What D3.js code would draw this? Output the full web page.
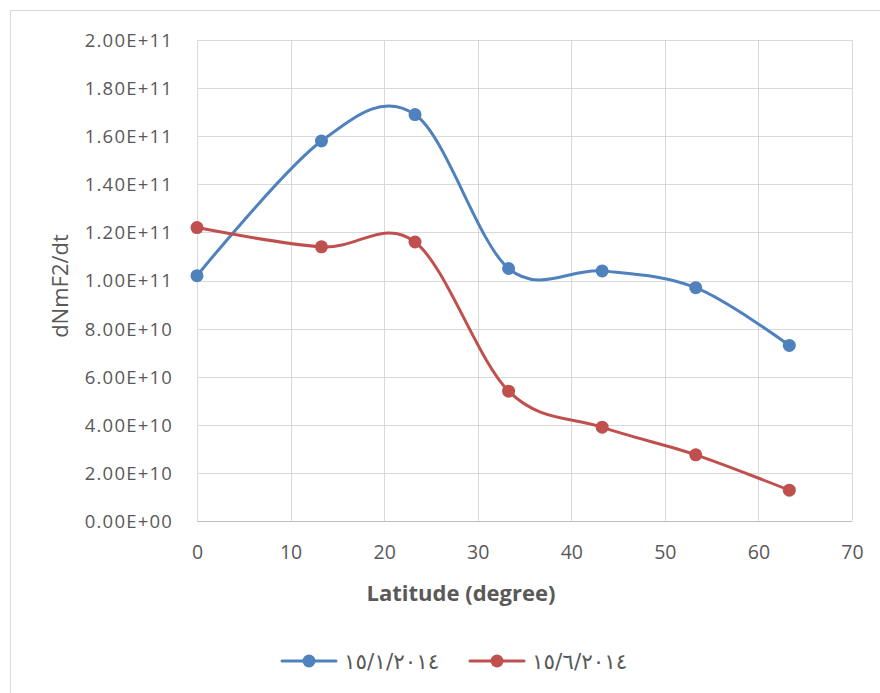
<!DOCTYPE html>
<html><head><meta charset="utf-8">
<script src="https://cdn.jsdelivr.net/npm/d3@7"></script>
<style>body{margin:0;background:#fff;} text{font-family:"Open Sans","Noto Sans",sans-serif;}</style>
</head><body>
<svg id="c" width="880" height="693"></svg>
<script>
const latitudes = [0, 13.3, 23.3, 33.3, 43.3, 53.3, 63.3];
const seriesJan = [1.02e11, 1.58e11, 1.69e11, 1.05e11, 1.04e11, 0.97e11, 0.73e11];
const seriesJun = [1.22e11, 1.14e11, 1.16e11, 0.54e11, 0.39e11, 0.275e11, 0.128e11];
const seriesNames = ["١٥/١/٢٠١٤", "١٥/٦/٢٠١٤"];
const seriesColors = ["#4F81BD", "#C0504D"];
const xTicks = [0, 10, 20, 30, 40, 50, 60, 70];
const yTicks = [0, 2e10, 4e10, 6e10, 8e10, 1e11, 1.2e11, 1.4e11, 1.6e11, 1.8e11, 2e11];

const svg = d3.select("#c");
svg.append("rect").attr("x",10.5).attr("y",10.5).attr("width",880).attr("height",690)
  .attr("fill","#fff").attr("stroke","#d9d9d9").attr("stroke-width",1);

const L=197, R=852, T=40, B=521;
const x = d3.scaleLinear().domain([0,70]).range([L,R]);
const y = d3.scaleLinear().domain([0,2e11]).range([B,T]);

// grid
const g = svg.append("g");
g.selectAll("line.v").data(xTicks).join("line")
  .attr("x1",d=>Math.round(x(d))+0.5).attr("x2",d=>Math.round(x(d))+0.5)
  .attr("y1",T).attr("y2",B).attr("stroke","#d9d9d9").attr("stroke-width",1);
g.selectAll("line.h").data(yTicks).join("line")
  .attr("y1",d=>Math.round(y(d))+0.5).attr("y2",d=>Math.round(y(d))+0.5)
  .attr("x1",L).attr("x2",R).attr("stroke","#d9d9d9").attr("stroke-width",1);
svg.append("line").attr("x1",L).attr("x2",R).attr("y1",B+0.5).attr("y2",B+0.5).attr("stroke","#bfbfbf");

function fmt(v){
  if(v===0) return "0.00E+00";
  const e = Math.floor(Math.log10(v)+1e-9);
  const m = v/Math.pow(10,e);
  return m.toFixed(2)+"E+"+e;
}
const xAxis = d3.axisBottom(x).tickValues(xTicks).tickSize(0).tickPadding(0);
const xa = svg.append("g").attr("transform",`translate(0,${B})`).call(xAxis);
xa.select(".domain").remove();
xa.selectAll("text").attr("font-size",19.5).attr("fill","#595959").attr("dy",0).attr("y",38)
  .style("font-family","'Open Sans',sans-serif");
const yAxis = d3.axisLeft(y).tickValues(yTicks).tickFormat(fmt).tickSize(0).tickPadding(0);
const ya = svg.append("g").attr("transform",`translate(${L},0)`).call(yAxis);
ya.select(".domain").remove();
ya.selectAll("text").attr("font-size",18.5).attr("fill","#595959").attr("x",-24).attr("dy","0.35em")
  .attr("letter-spacing",1.2)
  .style("font-family","'Open Sans',sans-serif");

svg.append("text").attr("x",461).attr("y",601).attr("text-anchor","middle")
  .attr("font-size",22).attr("font-weight","bold").attr("fill","#595959").text("Latitude (degree)");
svg.append("text").attr("transform","translate(68,286) rotate(-90)").attr("text-anchor","middle")
  .attr("font-size",22).attr("fill","#595959").text("dNmF2/dt");

const line = d3.line().x(d=>x(d[0])).y(d=>y(d[1])).curve(d3.curveCardinal.tension(0));
[seriesJan, seriesJun].forEach((s,i)=>{
  const pts = latitudes.map((lat,j)=>[lat,s[j]]);
  svg.append("path").datum(pts).attr("d",line).attr("fill","none")
    .attr("stroke",seriesColors[i]).attr("stroke-width",3).attr("stroke-linecap","round");
  svg.selectAll(null).data(pts).join("circle").attr("cx",d=>x(d[0])).attr("cy",d=>y(d[1]))
    .attr("r",6.5).attr("fill",seriesColors[i]);
});

// legend
const legX = [282, 470];
seriesNames.forEach((n,i)=>{
  const lx = legX[i], ly = 661;
  svg.append("line").attr("x1",lx).attr("x2",lx+54).attr("y1",ly).attr("y2",ly)
    .attr("stroke",seriesColors[i]).attr("stroke-width",3).attr("stroke-linecap","round");
  svg.append("circle").attr("cx",lx+27).attr("cy",ly).attr("r",6.5).attr("fill",seriesColors[i]);
  svg.append("text").attr("x",lx+62).attr("y",ly).attr("dy","0.35em").attr("font-size",21.5)
    .attr("fill","#595959").attr("direction","ltr").style("font-family","'DejaVu Sans','Noto Sans',sans-serif").text(n);
});
</script>
</body></html>
